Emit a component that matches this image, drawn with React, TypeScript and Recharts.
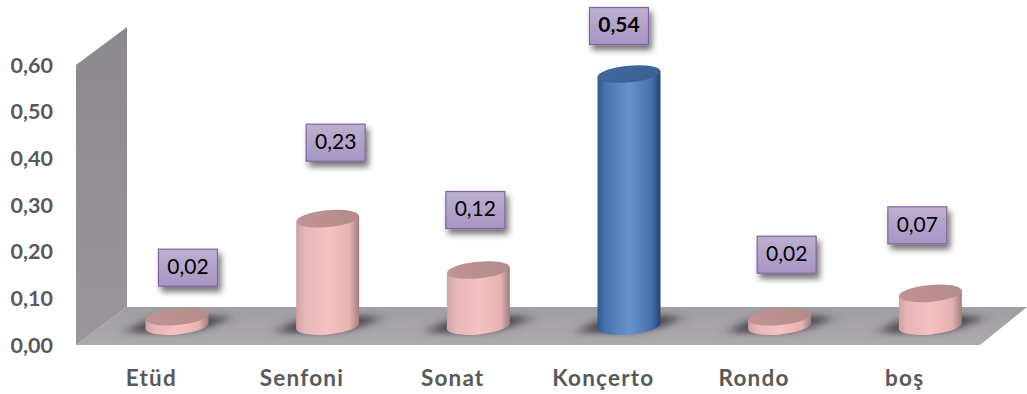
import React from "react";
import { BarChart, Bar, XAxis, YAxis, ReferenceArea, LabelList } from "recharts";

const categories = ["Etüd", "Senfoni", "Sonat", "Konçerto", "Rondo", "boş"];
const values = [0.02, 0.23, 0.12, 0.54, 0.02, 0.07];
const yTicks = [0, 0.1, 0.2, 0.3, 0.4, 0.5, 0.6];
const highlighted = "Konçerto";

// hand-placed data label nudges (px, relative to the bar top / bar centre)
const labelDx = [11, 8, -3, -10, 7, -13];
const labelDy = [-49, -76, -60, -48, -62, -68];

const data = categories.map((category, i) => ({ category, value: values[i] }));

const DEPTH_X = 51;
const DEPTH_Y = 38;
const BAR_DX = 25.5;
const BAR_DY = 19;
const FONT = "Lato, 'Open Sans', sans-serif";
const fmt = (v: number) => v.toFixed(2).replace(".", ",");

const Room = (p: any) => {
  const { x, y, width, height } = p;
  const b = y + height;
  return (
    <g>
      <polygon
        points={`${x},${b} ${x + DEPTH_X},${b - DEPTH_Y} ${x + width + DEPTH_X - 4},${b - DEPTH_Y} ${x + width},${b}`}
        fill="url(#floorGrad)"
      />
      <polygon
        points={`${x},${y} ${x + DEPTH_X},${y - DEPTH_Y} ${x + DEPTH_X},${b - DEPTH_Y} ${x},${b}`}
        fill="url(#wallGrad)"
      />
    </g>
  );
};

const Cylinder = (p: any) => {
  const { x, y, width, height, payload } = p;
  const blue = payload.category === highlighted;
  const cx = x + width / 2 + BAR_DX;
  const top = y - BAR_DY;
  const base = y + height - BAR_DY;
  const rx = width / 2;
  const ry = 8.4;
  const tilt = 3;
  const xl = cx - rx;
  const xr = cx + rx;
  const body = `M${xl},${top + tilt} L${xl},${base + tilt} A${rx},${ry} -5.4 0 0 ${xr},${base - tilt} L${xr},${top - tilt} Z`;
  return (
    <g>
      <path
        d={`M${cx - 52},${base + 7} Q${cx - 24},${base - 14} ${cx + 8},${base - 12} L${cx + 54},${base - 9} Q${cx + 24},${base + 8} ${cx - 10},${base + 7} Z`}
        fill="#4d4a50"
        filter="url(#floorBlur)"
      />
      <path d={body} fill={blue ? "url(#blueBody)" : "url(#pinkBody)"} />
      <ellipse
        cx={cx}
        cy={top}
        rx={rx}
        ry={ry}
        transform={`rotate(-5.4 ${cx} ${top})`}
        fill={blue ? "url(#blueTop)" : "url(#pinkTop)"}
      />
    </g>
  );
};

const ValueBox = (p: any) => {
  const { x, y, width, value, index } = p;
  const w = 59;
  const h = 37;
  const cx = x + width / 2 + BAR_DX + labelDx[index];
  const cy = y - BAR_DY + labelDy[index];
  const bold = categories[index] === highlighted;
  return (
    <g>
      <rect
        x={cx - w / 2}
        y={cy - h / 2}
        width={w}
        height={h}
        fill="url(#boxGrad)"
        stroke="#8064a2"
        strokeWidth={1.2}
        filter="url(#boxShadow)"
      />
      <text
        x={cx}
        y={cy + 1}
        textAnchor="middle"
        dominantBaseline="middle"
        fontFamily={FONT}
        fontSize={21}
        fontWeight={bold ? 700 : 400}
        fill="#000"
      >
        {fmt(value)}
      </text>
    </g>
  );
};

const yTickStyle = { fontFamily: FONT, fontSize: 21.5, fontWeight: 700, fill: "#595959" };
const xTickStyle = { fontFamily: FONT, fontSize: 22.5, fontWeight: 700, fill: "#595959", letterSpacing: 1.2 };

export default function App() {
  return (
    <div style={{ position: "fixed", left: 0, top: 0, width: 1027, height: 394, background: "#fff" }}>
      <BarChart
        width={1027}
        height={394}
        data={data}
        margin={{ top: 65, right: 47, bottom: 0, left: 0 }}
        barCategoryGap={0}
        style={{ overflow: "visible" }}
      >
        <defs>
          <linearGradient id="wallGrad" x1="0" y1="0" x2="0" y2="1">
            <stop offset="0" stopColor="#8b898e" />
            <stop offset="1" stopColor="#9a979c" />
          </linearGradient>
          <linearGradient id="floorGrad" x1="0" y1="0" x2="0" y2="1">
            <stop offset="0" stopColor="#a09ea3" />
            <stop offset="1" stopColor="#aeabb0" />
          </linearGradient>
          <linearGradient id="pinkBody" x1="0" y1="0" x2="1" y2="0">
            <stop offset="0" stopColor="#cfa3a3" />
            <stop offset="0.14" stopColor="#e8b6b6" />
            <stop offset="0.5" stopColor="#f5c1c1" />
            <stop offset="0.85" stopColor="#e5b1b1" />
            <stop offset="1" stopColor="#a27e7e" />
          </linearGradient>
          <linearGradient id="pinkTop" x1="0" y1="0" x2="1" y2="0">
            <stop offset="0" stopColor="#c09494" />
            <stop offset="1" stopColor="#b48b8b" />
          </linearGradient>
          <linearGradient id="blueBody" x1="0" y1="0" x2="1" y2="0">
            <stop offset="0" stopColor="#2f5a92" />
            <stop offset="0.12" stopColor="#4672ad" />
            <stop offset="0.5" stopColor="#6a93cd" />
            <stop offset="0.85" stopColor="#4471ac" />
            <stop offset="1" stopColor="#234670" />
          </linearGradient>
          <linearGradient id="blueTop" x1="0" y1="0" x2="1" y2="1">
            <stop offset="0" stopColor="#3f699f" />
            <stop offset="1" stopColor="#386092" />
          </linearGradient>
          <linearGradient id="boxGrad" x1="0" y1="0" x2="0" y2="1">
            <stop offset="0" stopColor="#bcb0cf" />
            <stop offset="1" stopColor="#a795c4" />
          </linearGradient>
          <filter id="floorBlur" x="-30%" y="-100%" width="160%" height="300%">
            <feGaussianBlur stdDeviation="7 3" />
          </filter>
          <filter id="boxShadow" x="-30%" y="-30%" width="170%" height="170%">
            <feDropShadow dx="3" dy="5" stdDeviation="3" floodColor="#000" floodOpacity="0.55" />
          </filter>
        </defs>
        <XAxis
          dataKey="category"
          height={49}
          axisLine={false}
          tickLine={false}
          tickMargin={19}
          interval={0}
          tick={xTickStyle}
        />
        <YAxis
          domain={[0, 0.6]}
          ticks={yTicks}
          width={76}
          axisLine={false}
          tickLine={false}
          tickMargin={17}
          tickFormatter={fmt}
          tick={yTickStyle}
        />
        <ReferenceArea y1={0} y2={0.6} ifOverflow="visible" shape={<Room />} />
        <Bar dataKey="value" barSize={63} shape={<Cylinder />} isAnimationActive={false}>
          <LabelList dataKey="value" content={<ValueBox />} />
        </Bar>
      </BarChart>
    </div>
  );
}
